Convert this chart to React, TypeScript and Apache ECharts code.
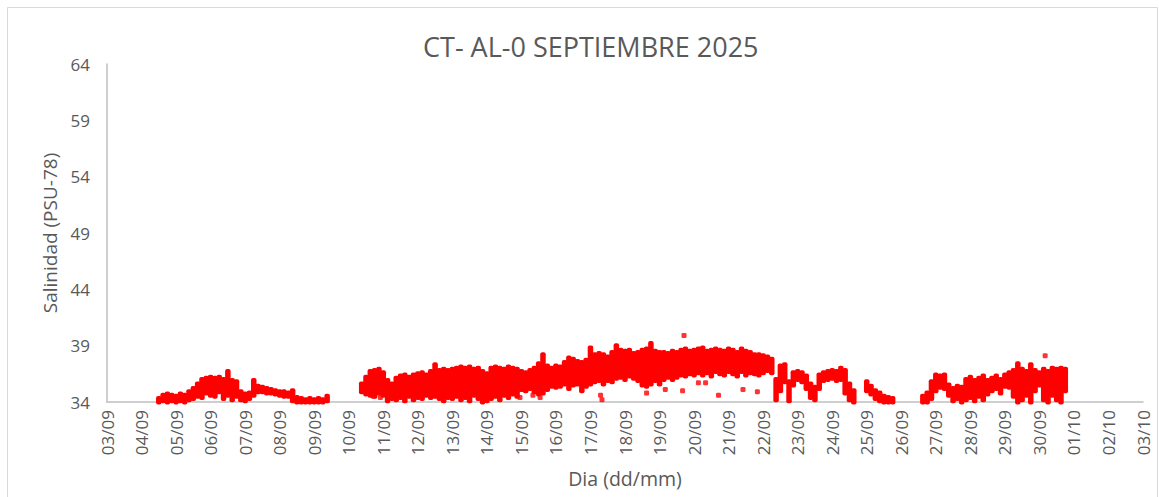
import React, { useEffect, useRef } from "react";
import * as echarts from "echarts";

// Tick labels (one per day, starting 03/09 00:00 = hour 0)
const dayLabels = [
  "03/09", "04/09", "05/09", "06/09", "07/09", "08/09", "09/09", "10/09", "11/09", "12/09",
  "13/09", "14/09", "15/09", "16/09", "17/09", "18/09", "19/09", "20/09", "21/09", "22/09",
  "23/09", "24/09", "25/09", "26/09", "27/09", "28/09", "29/09", "30/09", "01/10", "02/10", "03/10",
];

// Readings are grouped in 3-hour blocks; each block keeps its min and max salinity.
const STEP_H = 3;

// Segment A: from 04/09 12:00 (hour 36)
const segAStart = 36;
const segALow = [
  34.0, 34.1, 34.0, 34.1, 34.0, 34.1, 34.0, 34.2, 34.3, 34.5,
  34.4, 34.8, 34.6, 34.5, 34.9, 34.3, 34.6, 34.2, 34.5, 34.2,
  34.1, 34.3, 34.6, 34.9, 34.9, 34.8, 34.8, 34.7, 34.6, 34.5,
  34.5, 34.1, 34.0, 34.0, 34.0, 34.0, 34.0, 34.0, 34.0, 34.1,
];
const segAHigh = [
  34.3, 34.6, 34.7, 34.6, 34.5, 34.7, 34.6, 34.9, 35.2, 35.6,
  36.0, 36.1, 36.2, 36.1, 36.2, 36.0, 36.7, 35.9, 35.8, 34.9,
  34.7, 34.8, 35.9, 35.4, 35.3, 35.2, 35.1, 35.0, 34.9, 34.9,
  34.8, 35.0, 34.4, 34.3, 34.2, 34.3, 34.2, 34.3, 34.2, 34.5,
];

// Segment B: from 10/09 09:00 (hour 177) to 24/09 15:00
const segBStart = 177;
const segBLow = [
  34.9, 34.7, 34.6, 34.5, 34.8, 34.6, 34.1, 34.3, 34.2, 34.4,
  34.1, 34.5, 34.2, 34.4, 34.3, 34.6, 34.4, 34.5, 34.3, 34.1,
  34.4, 34.3, 34.5, 34.2, 34.4, 34.1, 34.6, 34.3, 34.0, 34.1,
  34.3, 34.5, 34.2, 34.6, 34.4, 34.7, 34.5, 35.1, 35.0, 35.2,
  34.9, 34.7, 34.8, 35.1, 35.4, 35.3, 35.4, 35.6, 35.2, 35.5,
  35.6, 35.0, 35.4, 35.6, 35.8, 35.9, 35.6, 35.9, 35.8, 36.1,
  36.2, 36.0, 36.3, 36.1, 35.9, 35.5, 35.4, 35.6, 35.9, 35.6,
  36.0, 36.2, 36.0, 36.2, 36.4, 36.3, 36.5, 36.4, 36.6, 36.4,
  36.6, 36.3, 36.7, 36.5, 36.4, 36.7, 36.5, 36.3, 36.7, 36.4,
  36.6, 36.5, 36.4, 36.6, 36.8, 36.6,
  34.2, 35.0, 35.8, 34.1, 35.5, 36.0, 35.8, 35.2, 34.4, 34.2,
  35.2, 35.9, 36.0, 36.1, 35.9, 36.0, 34.8, 34.2, 34.0,
];
const segBHigh = [
  35.6, 36.2, 36.7, 36.8, 36.9, 36.6, 35.9, 35.6, 36.1, 36.3,
  36.4, 36.2, 36.4, 36.5, 36.6, 36.4, 36.7, 37.3, 36.8, 36.9,
  36.8, 36.9, 37.0, 37.1, 37.0, 37.1, 36.9, 37.0, 36.7, 36.5,
  37.0, 37.1, 37.0, 36.9, 37.1, 37.0, 36.9, 36.7, 36.6, 36.8,
  37.0, 37.4, 38.2, 37.2, 37.0, 37.2, 37.1, 37.5, 37.9, 37.8,
  37.6, 37.5, 37.7, 38.8, 38.2, 38.3, 38.2, 38.0, 38.4, 39.0,
  38.6, 38.5, 38.6, 38.3, 38.4, 38.6, 38.7, 39.2, 38.5, 38.4,
  38.4, 38.3, 38.5, 38.4, 38.6, 38.7, 38.5, 38.6, 38.7, 38.8,
  38.5, 38.6, 38.7, 38.6, 38.5, 38.7, 38.6, 38.4, 38.7, 38.5,
  38.4, 38.2, 38.2, 38.1, 38.0, 37.8,
  36.0, 37.2, 37.3, 35.8, 36.6, 36.7, 36.6, 36.3, 35.6, 35.3,
  36.4, 36.6, 36.7, 36.8, 36.7, 37.0, 36.8, 35.6, 35.0,
];

// Segment C: from 25/09 00:00 (hour 528)
const segCStart = 528;
const segCLow = [35.0, 34.7, 34.3, 34.1, 34.0, 34.0, 34.0];
const segCHigh = [35.8, 35.4, 35.0, 34.8, 34.5, 34.4, 34.3];

// Segment D: from 26/09 15:00 (hour 567)
const segDStart = 567;
const segDLow = [
  34.0, 34.0, 34.3, 35.0, 35.3, 35.2, 34.6, 34.1, 34.3, 34.0,
  34.2, 34.4, 34.1, 34.5, 34.2, 34.7, 35.0, 35.2, 34.8, 35.4,
  35.3, 34.5, 34.0, 34.2, 34.6, 34.0, 35.0, 35.5, 34.2, 34.0,
  34.6, 34.2, 34.0, 35.0,
];
const segDHigh = [
  34.5, 34.8, 35.8, 36.4, 36.3, 36.4, 35.5, 35.2, 35.4, 35.3,
  36.0, 36.2, 35.9, 36.1, 36.3, 35.9, 36.1, 36.3, 36.0, 36.4,
  36.6, 36.8, 37.4, 36.9, 36.7, 37.3, 36.8, 36.6, 36.9, 36.7,
  37.0, 36.9, 37.0, 36.9,
];

// Isolated readings (hour since 03/09 00:00, salinity)
const outlierHours = [185, 190, 264, 287, 296, 301, 343, 344, 375, 388, 400, 401, 411, 416, 425, 442, 452, 652];
const outlierValues = [34.5, 34.4, 34.3, 34.4, 34.6, 34.4, 34.6, 34.2, 34.8, 35.1, 35.0, 39.9, 35.7, 35.7, 34.6, 35.1, 34.9, 38.1];

const yTicks = { min: 34, max: 64, interval: 5 };

function buildBand(start: number, lows: number[], highs: number[]) {
  return lows.map((lo, i) => [start + i * STEP_H, lo, highs[i]]);
}

export default function App() {
  const ref = useRef<HTMLDivElement>(null);

  useEffect(() => {
    if (!ref.current) return;
    const chart = echarts.init(ref.current, undefined, { renderer: "svg" });
    const bandData = [
      ...buildBand(segAStart, segALow, segAHigh),
      ...buildBand(segBStart, segBLow, segBHigh),
      ...buildBand(segCStart, segCLow, segCHigh),
      ...buildBand(segDStart, segDLow, segDHigh),
    ];
    const outliers = outlierHours.map((h, i) => [h, outlierValues[i]]);
    const fontFamily = "'Open Sans', sans-serif";
    const grey = "#595959";

    chart.setOption({
      animation: false,
      backgroundColor: "#ffffff",
      title: {
        text: "CT- AL-0 SEPTIEMBRE 2025",
        left: 418,
        top: 28,
        textStyle: { fontFamily, fontSize: 27, fontWeight: "normal", color: grey },
      },
      graphic: [
        {
          type: "rect",
          shape: { x: 7.5, y: 7.5, width: 1150, height: 500 },
          style: { fill: "none", stroke: "#d9d9d9", lineWidth: 1 },
          silent: true,
        },
      ],
      grid: { left: 107, right: 16, top: 64, bottom: 95, containLabel: false },
      xAxis: {
        type: "value",
        min: 0,
        max: (dayLabels.length - 1) * 24,
        interval: 24,
        name: "Dia (dd/mm)",
        nameLocation: "middle",
        nameGap: 66,
        nameTextStyle: { fontFamily, fontSize: 19.5, color: grey },
        axisLine: { show: true, lineStyle: { color: "#bfbfbf", width: 1.5 } },
        axisTick: { show: false },
        splitLine: { show: false },
        axisLabel: {
          rotate: 90,
          margin: 8,
          fontFamily,
          fontSize: 17,
          color: grey,
          formatter: (v: number) => dayLabels[Math.round(v / 24)] ?? "",
        },
      },
      yAxis: {
        type: "value",
        min: yTicks.min,
        max: yTicks.max,
        interval: yTicks.interval,
        name: "Salinidad (PSU-78)",
        nameLocation: "middle",
        nameGap: 48,
        nameTextStyle: { fontFamily, fontSize: 19, color: grey },
        axisLine: { show: true, lineStyle: { color: "#bfbfbf", width: 1.5 } },
        axisTick: { show: false },
        splitLine: { show: false },
        axisLabel: { margin: 17, fontFamily, fontSize: 17, color: grey },
      },
      series: [
        {
          type: "custom",
          data: bandData,
          encode: { x: 0, y: [1, 2] },
          renderItem: (params: any, api: any) => {
            const t = api.value(0);
            const lo = api.value(1);
            const hi = api.value(2);
            const pLo = api.coord([t, lo]);
            const pHi = api.coord([t, hi]);
            const w = api.size([STEP_H, 0])[0] + 1.2;
            return {
              type: "rect",
              shape: { x: pLo[0] - w / 2, y: pHi[1] - 2.5, width: w, height: pLo[1] - pHi[1] + 5, r: 2 },
              style: { fill: "#ff0000" },
            };
          },
        },
        {
          type: "scatter",
          data: outliers,
          symbol: "roundRect",
          symbolSize: 5,
          itemStyle: { color: "#ff0000" },
        },
      ],
    });
    return () => chart.dispose();
  }, []);

  return (
    <div
      ref={ref}
      style={{ position: "fixed", left: 0, top: 0, width: 1159, height: 497, background: "#fff" }}
    />
  );
}
